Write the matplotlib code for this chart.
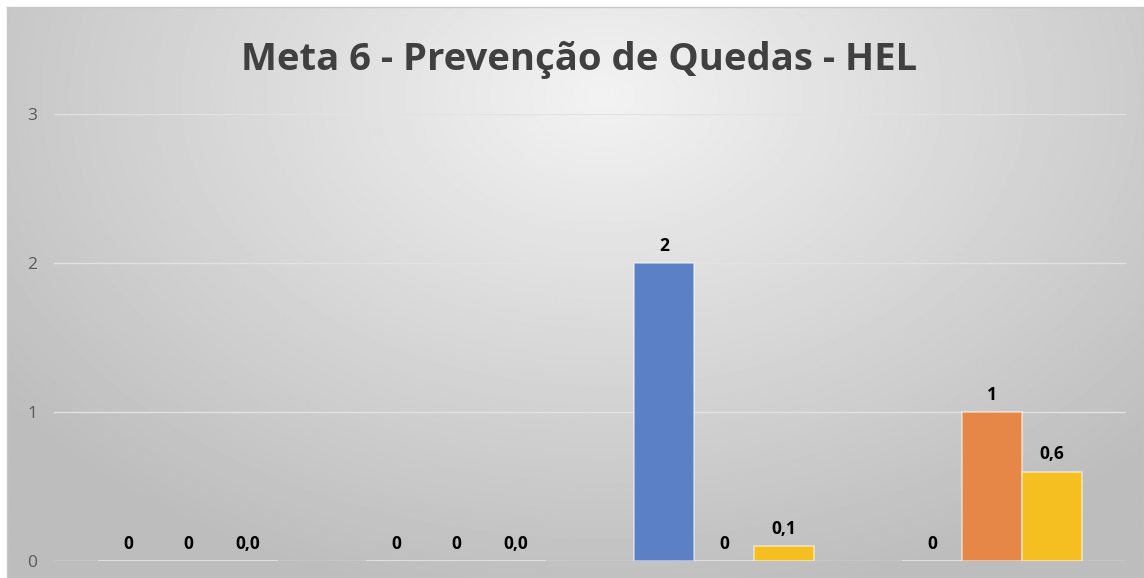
import matplotlib
matplotlib.use('Agg')
import matplotlib.pyplot as plt
import numpy as np

### Data
categories = ['G1', 'G2', 'G3', 'G4']
serie_a = [0, 0, 2, 0]
serie_b = [0, 0, 0, 1]
serie_c = [0.0, 0.0, 0.1, 0.6]
yticks = [0, 1, 2, 3]
title = 'Meta 6 - Prevenção de Quedas - HEL'

colors = ['#5b80c6', '#e68747', '#f5bf22']
label_fmt = ['{:.0f}', '{:.0f}', '{:.1f}']

plt.rcParams['font.family'] = ['Open Sans', 'DejaVu Sans']

fig = plt.figure(figsize=(11.44, 5.78), dpi=100)
fig.patch.set_facecolor('white')

# gradient background
W, H = 1144, 578
bg = fig.add_axes([7 / W, 0, 1 - 7 / W, 1 - 7 / H])
yy, xx = np.mgrid[0:H, 0:W]
r = np.sqrt(((xx - 600) / 900.0) ** 2 + ((yy - 90) / 620.0) ** 2)
shade = np.clip(0.95 - 0.25 * r, 0.74, 0.95)
bg.imshow(shade, cmap='gray', vmin=0, vmax=1, aspect='auto', interpolation='bilinear')
bg.set_xticks([])
bg.set_yticks([])
for s in bg.spines.values():
    s.set_color('#c8c8c8')
    s.set_linewidth(1)

ax = fig.add_axes([54 / W, (578 - 561) / H, 1072 / W, (561 - 114) / H])
ax.patch.set_alpha(0)

x = np.arange(len(categories))
w = 0.224
series = [serie_a, serie_b, serie_c]
for i, (vals, c) in enumerate(zip(series, colors)):
    bars = ax.bar(x + (i - 1) * w, vals, w, color=c,
                  edgecolor=(1, 1, 1, 0.55), linewidth=1.2, zorder=3)
    for b, v in zip(bars, vals):
        ax.annotate(label_fmt[i].format(v).replace('.', ','),
                    (b.get_x() + b.get_width() / 2, v),
                    xytext=(0, 6), textcoords='offset points',
                    ha='center', va='bottom', fontsize=12.5,
                    fontweight='bold', color='black')

ax.set_xlim(-0.5, len(categories) - 0.5)
ax.set_ylim(0, 3)
ax.set_yticks(yticks)
ax.set_yticklabels([str(t) for t in yticks])
ax.set_xticks([])
ax.yaxis.grid(True, color='#e2e2e2', linewidth=1, zorder=0)
ax.tick_params(axis='y', length=0, labelsize=12.5, labelcolor='#595959', pad=12)
for s in ax.spines.values():
    s.set_visible(False)

fig.text(579 / W, 1 - 60 / H, title, ha='center', va='center',
         fontsize=27.5, fontweight='bold', color='#404040')

plt.savefig('out.png', dpi=100)
